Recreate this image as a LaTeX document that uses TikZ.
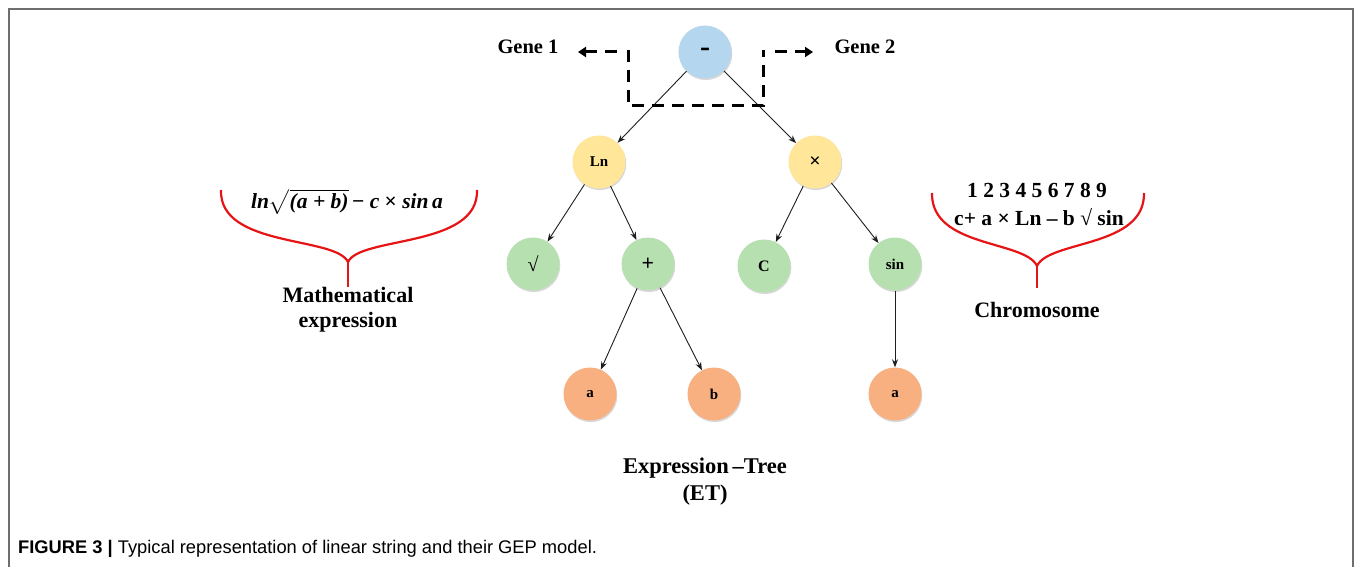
\documentclass[tikz,border=0pt]{standalone}
\usepackage{amsmath}
\usepackage{fontspec}
\setmainfont{Liberation Serif}
\newfontfamily\capfont{Liberation Sans}
\usetikzlibrary{arrows.meta,shadows}
\definecolor{cblue}{RGB}{180,214,238}
\definecolor{cyellow}{RGB}{255,230,153}
\definecolor{cgreen}{RGB}{182,224,176}
\definecolor{corange}{RGB}{249,176,128}
\definecolor{cframe}{RGB}{110,110,110}
\definecolor{cedge}{RGB}{30,30,30}
\definecolor{cred}{RGB}{230,20,20}
\newcommand{\mathexprtext}{\mbox{\bfseries\itshape ln\boldmath$\sqrt{\hbox{\bfseries\itshape (a + b)}}$\,\upshape − \itshape c \upshape× \itshape sin\,a}}
\tikzset{
  tnode/.style={circle,minimum size=53pt,inner sep=0pt,font=\fontsize{15}{15}\selectfont\bfseries,
    drop shadow={shadow xshift=0.8pt,shadow yshift=-1.6pt,opacity=0.3}},
  edge/.style={draw=cedge,line width=0.9pt,-{Stealth[length=8pt,width=6pt]}},
  dsh/.style={line width=3pt,dash pattern=on 12pt off 8pt},
  lbl/.style={font=\fontsize{22}{25}\selectfont\bfseries,align=center},
  chr/.style={font=\fontsize{21.5}{22}\selectfont\bfseries},
  brace/.style={draw=cred,line width=2.2pt},
}
\begin{document}
\begin{tikzpicture}[x=1pt,y=-1pt]
\useasboundingbox (0,0) rectangle (1355,567);
\fill[white] (0,0) rectangle (1355,567);
% frame
\draw[cframe,line width=1.8pt] (9,567) -- (9,9) -- (1353,9) -- (1353,567);
% nodes
\node[tnode,fill=cblue] (r) at (705,52) {\fontsize{30}{30}\selectfont -};
\node[tnode,fill=cyellow] (ln) at (599,162) {Ln};
\node[tnode,fill=cyellow] (mul) at (815,162) {\fontsize{20}{20}\selectfont ×};
\node[tnode,fill=cgreen] (sq) at (533,264) {\fontsize{20}{20}\selectfont\mdseries √};
\node[tnode,fill=cgreen] (pl) at (648,264) {\fontsize{22}{22}\selectfont +};
\node[tnode,fill=cgreen] (c) at (764,266) {\fontsize{16}{16}\selectfont C};
\node[tnode,fill=cgreen] (sin) at (895,264) {sin};
\node[tnode,fill=corange] (a1) at (590,394) {a};
\node[tnode,fill=corange] (b) at (714,394) {b};
\node[tnode,fill=corange] (a2) at (895,394) {a};
% edges
\draw[edge] (r) -- (ln);
\draw[edge] (r) -- (mul);
\draw[edge] (ln) -- (sq);
\draw[edge] (ln) -- (pl);
\draw[edge] (mul) -- (c);
\draw[edge] (mul) -- (sin);
\draw[edge] (pl) -- (a1);
\draw[edge] (pl) -- (b);
\draw[edge] (sin) -- (a2);
% gene bracket
\coordinate (g1) at (628,50);
\coordinate (g2) at (628,106);
\coordinate (g3) at (763,106);
\coordinate (g4) at (763,50);
\draw[dsh] (g1) -- (g2) -- (g3) -- (g4);
\node[lbl,font=\fontsize{20.5}{22}\selectfont\bfseries] (gene1) at (528,47) {Gene 1};
\node[lbl,font=\fontsize{20.5}{22}\selectfont\bfseries] (gene2) at (865,47) {Gene 2};
\coordinate (la) at (617,52);
\coordinate (lt) at (578,52);
\coordinate (ra) at (775,52);
\coordinate (rt) at (813,52);
\draw[dsh,-{Triangle[length=8pt,width=10pt]}] (la) -- (lt);
\draw[dsh,-{Triangle[length=8pt,width=10pt]}] (ra) -- (rt);
% math expression brace
\node[font=\fontsize{21.5}{24}\selectfont] (mexpr) at (347,202) {\mathexprtext};
\coordinate (mL) at (221,190);
\coordinate (mR) at (477,190);
\coordinate (mC) at (348,262);
\coordinate (mS) at (348,287);
\draw[brace] (mL) .. controls (219,248) and (336,236) .. (mC) .. controls (360,236) and (479,248) .. (mR);
\draw[brace] (mC) -- (mS);
\node[lbl] (mlbl) at (348,310) {Mathematical\\expression};
% chromosome brace
\node[chr] (digits) at (1037,190) {1 2 3 4 5 6 7 8 9};
\node[chr] (chrom) at (1039,217) {c+ a × Ln – b √ sin};
\coordinate (cL) at (932,193);
\coordinate (cR) at (1144,193);
\coordinate (cC) at (1037,266);
\coordinate (cS) at (1037,288);
\draw[brace] (cL) .. controls (931,248) and (1025,240) .. (cC) .. controls (1049,240) and (1145,248) .. (cR);
\draw[brace] (cC) -- (cS);
\node[lbl] (clbl) at (1037,310) {Chromosome};
% ET label
\node[lbl,font=\fontsize{22.5}{27}\selectfont\bfseries] (et) at (705,482) {Expression\,–Tree\\(ET)};
% caption
\node[anchor=west,font=\capfont\fontsize{18.3}{20}\selectfont,inner sep=0pt] (cap) at (18,549) {\textbf{FIGURE 3 |} Typical representation of linear string and their GEP model.};
\end{tikzpicture}
\end{document}
